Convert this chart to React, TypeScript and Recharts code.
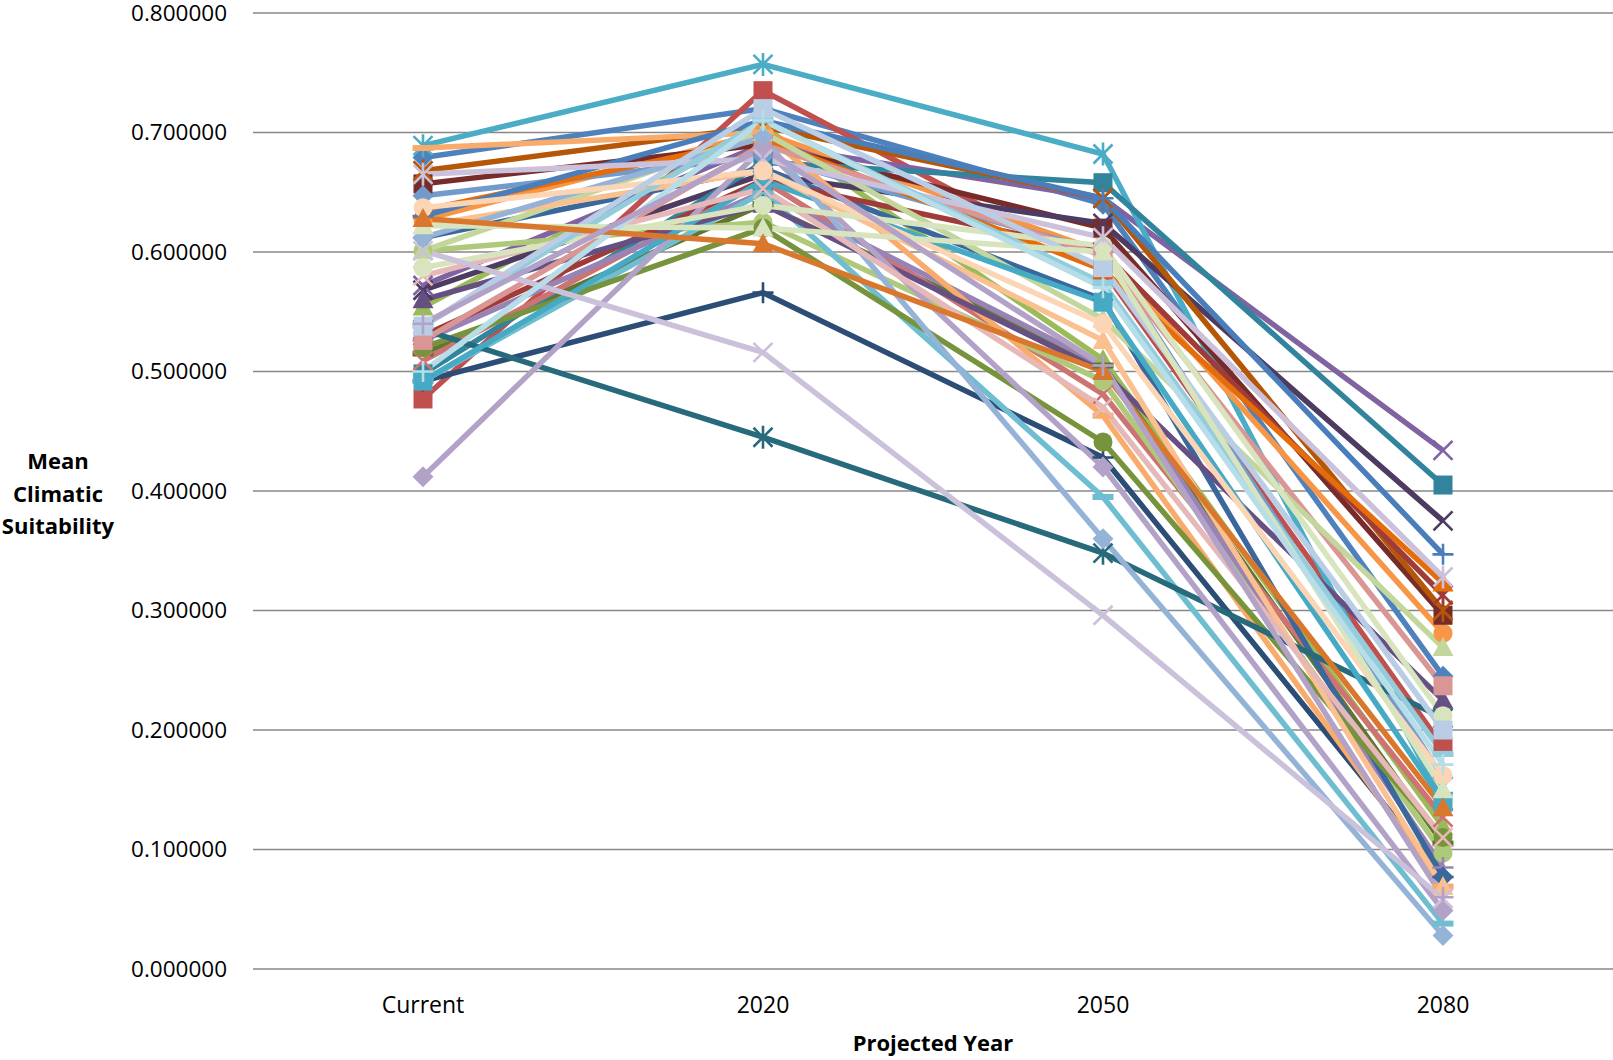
import React from 'react';
import { LineChart, Line, XAxis, YAxis, CartesianGrid, Label } from 'recharts';

const categories = ['Current', '2020', '2050', '2080'];
const yTicks = [0, 0.1, 0.2, 0.3, 0.4, 0.5, 0.6, 0.7, 0.8];

const valuesCurrent = [
  0.679, 0.477, 0.554, 0.572, 0.689, 0.627, 0.492, 0.657, 0.515, 0.568,
  0.498, 0.668, 0.647, 0.509, 0.601, 0.526, 0.492, 0.687, 0.612, 0.530,
  0.520, 0.560, 0.535, 0.635, 0.630, 0.526, 0.601, 0.412, 0.492, 0.622,
  0.612, 0.580, 0.587, 0.665, 0.538, 0.637, 0.538, 0.601, 0.622, 0.500,
  0.628, 0.540,
];
const values2020 = [
  0.720, 0.735, 0.705, 0.690, 0.757, 0.700, 0.566, 0.690, 0.640, 0.665,
  0.675, 0.705, 0.680, 0.660, 0.625, 0.650, 0.650, 0.700, 0.670, 0.660,
  0.620, 0.640, 0.445, 0.695, 0.710, 0.690, 0.700, 0.687, 0.660, 0.668,
  0.696, 0.653, 0.639, 0.678, 0.710, 0.668, 0.720, 0.516, 0.620, 0.710,
  0.607, 0.687,
];
const values2050 = [
  0.640, 0.585, 0.510, 0.645, 0.682, 0.600, 0.428, 0.620, 0.505, 0.624,
  0.658, 0.645, 0.600, 0.481, 0.492, 0.505, 0.395, 0.463, 0.560, 0.600,
  0.441, 0.500, 0.348, 0.585, 0.645, 0.597, 0.544, 0.420, 0.558, 0.526,
  0.360, 0.470, 0.605, 0.612, 0.574, 0.540, 0.587, 0.296, 0.600, 0.570,
  0.500, 0.505,
];
const values2080 = [
  0.245, 0.186, 0.119, 0.434, 0.140, 0.281, 0.077, 0.296, 0.105, 0.375,
  0.405, 0.300, 0.160, 0.127, 0.097, 0.085, 0.038, 0.069, 0.077, 0.313,
  0.110, 0.225, 0.210, 0.323, 0.347, 0.237, 0.269, 0.049, 0.140, 0.069,
  0.028, 0.110, 0.212, 0.328, 0.180, 0.162, 0.200, 0.059, 0.150, 0.171,
  0.135, 0.060,
];
const seriesNames = valuesCurrent.map((_, i) => `Series${i + 1}`);

const seriesColors = [
  '#4F81BD', '#C0504D', '#9BBB59', '#8064A2', '#4BACC6', '#F79646', '#2C4D75', '#772C2A', '#5F7530', '#4D3B62',
  '#31849B', '#B65708', '#729ACA', '#CD7371', '#AFC97A', '#9983B5', '#6FBDD1', '#F9AB6B', '#3A679C', '#9F3B38',
  '#77933C', '#664F83', '#276A7C', '#E46C0A', '#4A7EBB', '#D99694', '#C3D69B', '#B3A2C7', '#46AAC5', '#FAC090',
  '#95B3D7', '#E6B9B8', '#D7E4BD', '#CCC1DA', '#93CDDD', '#FCD5B5', '#B9CDE5', '#CCC1DA', '#D7E4BD', '#B7DEE8',
  '#D9782D', '#B3A2C7',
];
const seriesMarkers = [
  'diamond', 'square', 'triangle', 'x', 'star', 'circle', 'plus', 'square', 'dash', 'x',
  'square', 'star', 'diamond', 'x', 'circle', 'plus', 'dash', 'dash', 'diamond', 'star',
  'circle', 'triangle', 'star', 'triangle', 'plus', 'square', 'triangle', 'diamond', 'square', 'triangle',
  'diamond', 'x', 'circle', 'star', 'dash', 'circle', 'square', 'x', 'triangle', 'plus',
  'triangle', 'plus',
];

const columns = [valuesCurrent, values2020, values2050, values2080];
const data = categories.map((c, ci) => {
  const row: Record<string, any> = { category: c };
  seriesNames.forEach((n, si) => {
    row[n] = columns[ci][si];
  });
  return row;
});

const FONT = '"Open Sans", "DejaVu Sans", sans-serif';

function markerShape(shape: string, cx: number, cy: number, color: string) {
  switch (shape) {
    case 'diamond':
      return <polygon points={`${cx},${cy - 10.5} ${cx + 10.5},${cy} ${cx},${cy + 10.5} ${cx - 10.5},${cy}`} fill={color} />;
    case 'square':
      return <rect x={cx - 9.5} y={cy - 9.5} width={19} height={19} fill={color} />;
    case 'triangle':
      return <polygon points={`${cx},${cy - 10.5} ${cx + 10.5},${cy + 8.5} ${cx - 10.5},${cy + 8.5}`} fill={color} />;
    case 'x':
      return (
        <path d={`M${cx - 9.5},${cy - 9.5}L${cx + 9.5},${cy + 9.5}M${cx + 9.5},${cy - 9.5}L${cx - 9.5},${cy + 9.5}`} stroke={color} strokeWidth={2.6} fill="none" />
      );
    case 'star':
      return (
        <path
          d={`M${cx - 9.5},${cy - 9.5}L${cx + 9.5},${cy + 9.5}M${cx + 9.5},${cy - 9.5}L${cx - 9.5},${cy + 9.5}M${cx},${cy - 11.5}L${cx},${cy + 11.5}`}
          stroke={color}
          strokeWidth={2.6}
          fill="none"
        />
      );
    case 'circle':
      return <circle cx={cx} cy={cy} r={9.5} fill={color} />;
    case 'plus':
      return <path d={`M${cx - 10.5},${cy}L${cx + 10.5},${cy}M${cx},${cy - 10.5}L${cx},${cy + 10.5}`} stroke={color} strokeWidth={2.6} fill="none" />;
    case 'dash':
      return <rect x={cx - 10.5} y={cy - 3} width={21} height={6} fill={color} />;
    default:
      return null;
  }
}

function makeDot(shape: string, color: string, sIdx: number) {
  return (props: any) => {
    const { cx, cy, index } = props;
    return <g key={`m-${sIdx}-${index}`}>{markerShape(shape, cx, cy, color)}</g>;
  };
}

const YLabel = () => (
  <g>
    <text x={58} y={469} textAnchor="middle" fontFamily={FONT} fontWeight={700} fontSize={22} fill="#000">Mean</text>
    <text x={58} y={502} textAnchor="middle" fontFamily={FONT} fontWeight={700} fontSize={22} fill="#000">Climatic</text>
    <text x={58} y={534} textAnchor="middle" fontFamily={FONT} fontWeight={700} fontSize={22} fill="#000">Suitability</text>
  </g>
);

const XLabel = () => (
  <text x={933} y={1051} textAnchor="middle" fontFamily={FONT} fontWeight={700} fontSize={22} fill="#000">
    Projected Year
  </text>
);

export default function App() {
  return (
    <div style={{ width: 1613, height: 1060, background: '#fff' }}>
      <style>{'body{margin:0;background:#fff;}'}</style>
      <LineChart width={1613} height={1060} data={data} margin={{ top: 13, right: 0, left: 0, bottom: 0 }}>
        <CartesianGrid vertical={false} stroke="#878787" strokeWidth={1.6} />
        <XAxis
          dataKey="category"
          axisLine={false}
          tickLine={false}
          height={91}
          padding={{ left: 170, right: 170 }}
          tickMargin={22}
          tick={{ fontFamily: FONT, fontSize: 23, fill: '#000' }}
          interval={0}
        >
          <Label content={<XLabel />} />
        </XAxis>
        <YAxis
          type="number"
          domain={[0, 0.8]}
          ticks={yTicks}
          width={253}
          axisLine={false}
          tickLine={false}
          tickMargin={20}
          tickFormatter={(v: number) => v.toFixed(6)}
          tick={{ fontFamily: FONT, fontSize: 22.5, fill: '#000' }}
          interval={0}
        >
          <Label content={<YLabel />} />
        </YAxis>
        {seriesNames.map((n, i) => (
          <Line
            key={n}
            dataKey={n}
            stroke={seriesColors[i]}
            strokeWidth={5.5}
            isAnimationActive={false}
            dot={makeDot(seriesMarkers[i], seriesColors[i], i)}
            activeDot={false}
          />
        ))}
      </LineChart>
    </div>
  );
}
